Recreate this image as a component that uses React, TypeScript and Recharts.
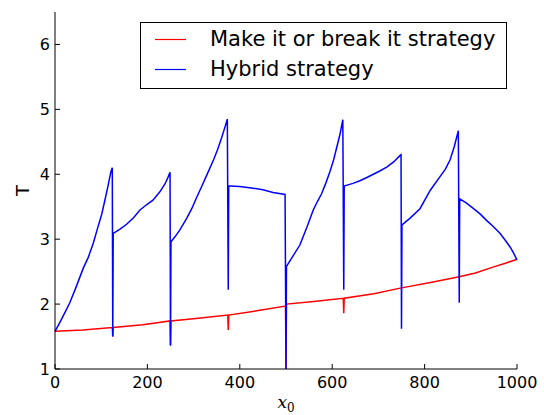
import { LineChart, Line, XAxis, YAxis, Legend } from 'recharts'

// Hybrid strategy: T against starting position x0 (drops at every 125 step)
const hybridX = [
  0, 10, 20, 32, 45, 61, 72, 83, 93, 101, 108, 115, 121, 124,
  125,
  126, 140, 155, 170, 184, 198, 212, 227, 238, 245, 249,
  250,
  251, 260, 270, 285, 296, 307, 318, 328, 343, 352, 361, 368, 373,
  375,
  376, 379, 400, 425, 450, 472, 498,
  500,
  501, 515, 530, 545, 559, 568, 577, 586, 595, 603, 610, 617, 623,
  625,
  626, 645, 660, 675, 689, 703, 718, 733, 747, 749,
  750,
  751, 768, 790, 812, 833, 845, 855, 864, 873,
  875,
  876, 890, 906, 920, 934, 948, 963, 975, 985, 993, 1000,
]
const hybridT = [
  1.58, 1.71, 1.85, 2.02, 2.25, 2.55, 2.72, 2.94, 3.19, 3.38, 3.6, 3.83, 4.04, 4.1,
  1.5,
  3.09, 3.15, 3.23, 3.33, 3.45, 3.53, 3.6, 3.73, 3.85, 3.96, 4.03,
  1.36,
  2.96, 3.04, 3.14, 3.32, 3.47, 3.65, 3.82, 3.98, 4.22, 4.38, 4.57, 4.73, 4.85,
  2.22,
  3.82, 3.82, 3.81, 3.79, 3.76, 3.72, 3.69,
  1.0,
  2.58, 2.74, 2.91, 3.18, 3.45, 3.58, 3.7, 3.86, 4.04, 4.22, 4.42, 4.62, 4.84,
  2.22,
  3.82, 3.86, 3.9, 3.95, 4.0, 4.05, 4.11, 4.19, 4.29, 4.3,
  1.62,
  3.22, 3.32, 3.47, 3.75, 3.96, 4.08, 4.22, 4.42, 4.67,
  2.02,
  3.62, 3.56, 3.47, 3.39, 3.29, 3.2, 3.09, 2.98, 2.88, 2.78, 2.68,
]

// Make it or break it strategy
const makeBreakX = [
  0, 60, 124, 125, 126, 190, 249, 250, 251, 310, 374, 375, 376, 440, 499,
  500, 501, 560, 624, 625, 626, 690, 750, 810, 875,
  910, 948, 975, 1000,
]
const makeBreakT = [
  1.58, 1.6, 1.64, 1.5, 1.64, 1.68, 1.74, 1.37, 1.74, 1.78, 1.83, 1.6, 1.83, 1.9, 1.97,
  1.0, 2.0, 2.04, 2.09, 1.86, 2.09, 2.16, 2.25, 2.33, 2.42,
  2.48, 2.57, 2.63, 2.69,
]

const seriesNames = ['Make it or break it strategy', 'Hybrid strategy']
const seriesColors = ['#ff0000', '#0000ff']

const xTicks = [0, 200, 400, 600, 800, 1000]
const yTicks = [1, 2, 3, 4, 5, 6]

const FONT = 'DejaVu Sans'

const toPoints = (xs: number[], ts: number[]) => xs.map((x, i) => ({ x, T: ts[i] }))

const hybridData = toPoints(hybridX, hybridT)
const makeBreakData = toPoints(makeBreakX, makeBreakT)

const tickStyle = { fill: '#000', fontSize: 16, fontFamily: FONT }

const YTitle = ({ viewBox }: any) => {
  const cx = viewBox.x + 22
  const cy = viewBox.y + viewBox.height / 2
  return (
    <text
      x={cx}
      y={cy}
      transform={`rotate(-90 ${cx} ${cy})`}
      textAnchor="middle"
      dominantBaseline="central"
      fontFamily={FONT}
      fontSize={18}
      fill="#000"
    >
      T
    </text>
  )
}

const XTitle = ({ viewBox }: any) => {
  const cx = viewBox.x + viewBox.width / 2
  return (
    <text x={cx} y={viewBox.y + 39} textAnchor="middle" fill="#000">
      <tspan fontFamily="DejaVu Serif" fontStyle="italic" fontSize={17}>x</tspan>
      <tspan fontFamily="DejaVu Serif" fontSize={12} dy={4}>0</tspan>
    </text>
  )
}

// both series share dataKey "T", so the legend is built from the name/colour lists
const LegendBox = () => (
  <svg width={367} height={67} style={{ display: 'block' }}>
    <rect x={0.5} y={0.5} width={366} height={66} fill="#fff" stroke="#000" strokeWidth={1} />
    {seriesNames.map((name, i) => (
      <g key={name}>
        <line x1={15} x2={46} y1={17.5 + i * 30} y2={17.5 + i * 30} stroke={seriesColors[i]} strokeWidth={1.2} />
        <text
          x={70}
          y={17 + i * 30}
          dominantBaseline="central"
          fontFamily={FONT}
          fontSize={21}
          fill="#000"
        >
          {name}
        </text>
      </g>
    ))}
  </svg>
)

export default function App() {
  return (
    <div style={{ position: 'absolute', left: 0, top: 0, background: '#fff' }}>
      <LineChart width={544} height={415} margin={{ top: 12, right: 27, bottom: 0, left: 0 }}>
        <XAxis
          dataKey="x"
          type="number"
          domain={[0, 1000]}
          ticks={xTicks}
          height={46}
          tickSize={-5}
          tickMargin={13}
          tick={tickStyle}
          axisLine={{ stroke: '#000', strokeWidth: 1 }}
          tickLine={{ stroke: '#000' }}
          label={<XTitle />}
        />
        <XAxis
          xAxisId="top"
          orientation="top"
          dataKey="x"
          type="number"
          domain={[0, 1000]}
          ticks={xTicks}
          height={0}
          tickSize={-5}
          tick={false}
          axisLine={{ stroke: '#000', strokeWidth: 1 }}
          tickLine={{ stroke: '#000' }}
        />
        <YAxis
          type="number"
          domain={[1, 6.5]}
          ticks={yTicks}
          width={55}
          tickSize={-5}
          tickMargin={10}
          tick={tickStyle}
          allowDataOverflow
          axisLine={{ stroke: '#000', strokeWidth: 1 }}
          tickLine={{ stroke: '#000' }}
          label={<YTitle />}
        />
        <YAxis
          yAxisId="right"
          orientation="right"
          type="number"
          domain={[1, 6.5]}
          ticks={yTicks}
          width={0}
          tickSize={-5}
          tick={false}
          axisLine={{ stroke: '#000', strokeWidth: 1 }}
          tickLine={{ stroke: '#000' }}
        />
        <Legend
          layout="vertical"
          align="center"
          verticalAlign="middle"
          content={<LegendBox />}
          wrapperStyle={{ position: 'absolute', left: 140, top: 22, width: 367, height: 67 }}
        />
        <Line
          data={makeBreakData}
          dataKey="T"
          name={seriesNames[0]}
          type="linear"
          stroke={seriesColors[0]}
          strokeWidth={1.5}
          dot={false}
          activeDot={false}
          isAnimationActive={false}
        />
        <Line
          data={hybridData}
          dataKey="T"
          name={seriesNames[1]}
          type="linear"
          stroke={seriesColors[1]}
          strokeWidth={1.5}
          dot={false}
          activeDot={false}
          isAnimationActive={false}
        />
      </LineChart>
    </div>
  )
}
